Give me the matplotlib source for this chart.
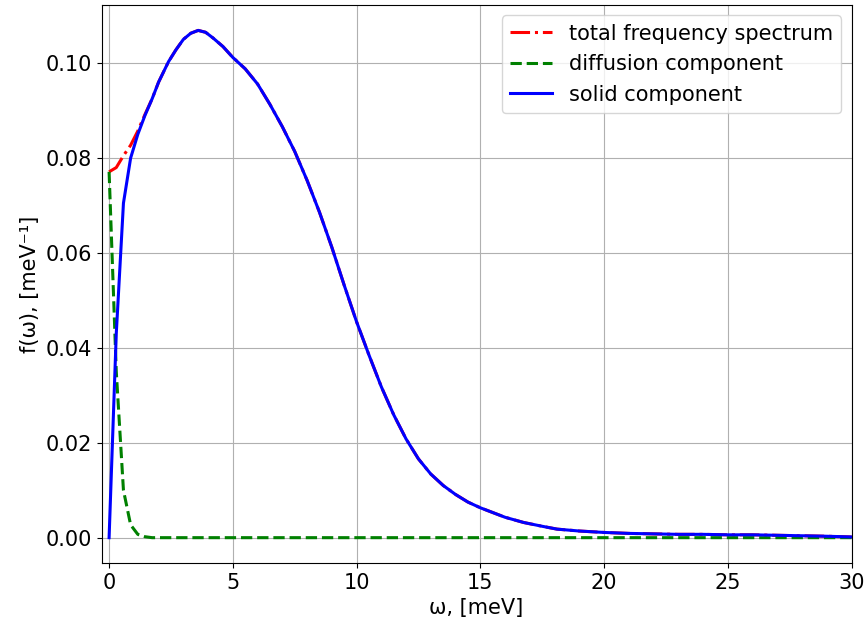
import matplotlib
matplotlib.use("Agg")
import matplotlib.pyplot as plt

# frequency grid, meV
omega = [0.0, 0.29, 0.58, 0.87, 1.16, 1.45, 1.74, 2.0, 2.4, 2.7, 3.0, 3.3, 3.6, 3.9,
         4.2, 4.6, 5.0, 5.5, 6.0, 6.5, 7.0, 7.5, 8.0, 8.5, 9.0, 9.5, 10.0, 10.5,
         11.0, 11.5, 12.0, 12.5, 13.0, 13.5, 14.0, 14.5, 15.0, 15.5, 16.0, 16.75,
         17.5, 18.1, 19.0, 20.0, 21.0, 22.0, 23.0, 24.0, 25.0, 26.0, 27.0, 28.0,
         29.0, 30.0]

solid = [0.0, 0.043, 0.0705, 0.0800, 0.0850, 0.0890, 0.0925, 0.0960, 0.1003, 0.1028,
         0.1050, 0.1063, 0.1069, 0.1065, 0.1053, 0.1035, 0.1012, 0.0988, 0.0956,
         0.0913, 0.0866, 0.0814, 0.0753, 0.0686, 0.0612, 0.0532, 0.0455, 0.0385,
         0.0318, 0.0259, 0.0208, 0.0166, 0.0134, 0.0110, 0.0091, 0.0075, 0.0063,
         0.0053, 0.0043, 0.0032, 0.0024, 0.0018, 0.0014, 0.0011, 0.0009, 0.0008,
         0.0007, 0.0007, 0.0006, 0.0006, 0.0005, 0.0004, 0.0003, 0.00015]

diffusion = [0.0771, 0.035, 0.010, 0.0027, 0.0007, 0.0002] + [0.0] * 48

total = [0.0771, 0.0780, 0.0805, 0.0827, 0.0857, 0.0892, 0.0925, 0.0960, 0.1003,
         0.1028, 0.1050, 0.1063, 0.1069, 0.1065, 0.1053, 0.1035, 0.1012, 0.0988,
         0.0956, 0.0913, 0.0866, 0.0814, 0.0753, 0.0686, 0.0612, 0.0532, 0.0455,
         0.0385, 0.0318, 0.0259, 0.0208, 0.0166, 0.0134, 0.0110, 0.0091, 0.0075,
         0.0063, 0.0053, 0.0043, 0.0032, 0.0024, 0.0018, 0.0014, 0.0011, 0.0009,
         0.0008, 0.0007, 0.0007, 0.0006, 0.0006, 0.0005, 0.0004, 0.0003, 0.00015]

plt.rcParams["font.size"] = 15

fig = plt.figure(figsize=(8.66, 6.3), dpi=100)
ax = fig.add_subplot(111)
fig.subplots_adjust(left=0.1174, right=0.9833, bottom=0.1063, top=0.992)

ax.plot(omega, total, "r-.", lw=2.2, label="total frequency spectrum")
ax.plot(omega, diffusion, "g--", lw=2.2, label="diffusion component")
ax.plot(omega, solid, "b-", lw=2.2, label="solid component")

ax.set_xlim(-0.3, 30)
ax.set_xlabel("ω, [meV]")
ax.set_ylabel("f(ω), [meV⁻¹]")
ax.grid(True)
ax.legend(loc="upper right")

fig.savefig("out.png", dpi=100)
